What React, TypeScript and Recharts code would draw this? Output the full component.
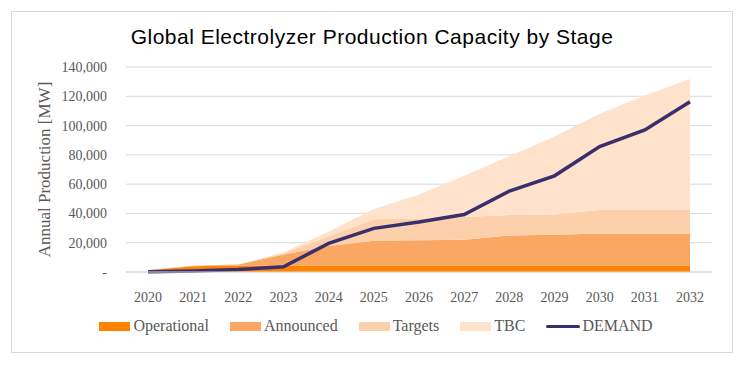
import { ComposedChart, Area, Line, CartesianGrid, XAxis, YAxis } from "recharts";
import { FC } from "react";

const years = ["2020", "2021", "2022", "2023", "2024", "2025", "2026", "2027", "2028", "2029", "2030", "2031", "2032"];
const operational = [1000, 4000, 4400, 4400, 4400, 4400, 4400, 4400, 4400, 4400, 4400, 4400, 4400];
const announced = [300, 300, 800, 7600, 13400, 16900, 17300, 17600, 20600, 21000, 21900, 21900, 21900];
const targets = [0, 0, 0, 1000, 6700, 14800, 14900, 15500, 14000, 13800, 16000, 16000, 16000];
const tbc = [200, 0, 100, 400, 3200, 6900, 16400, 28300, 40000, 53300, 65700, 78200, 89500];
const demand = [200, 700, 1700, 3600, 19500, 29800, 34200, 39300, 55300, 65700, 85700, 97000, 116300];
const yTicks = [0, 20000, 40000, 60000, 80000, 100000, 120000, 140000];

const data = years.map((year, i) => ({
  year,
  operational: operational[i],
  announced: announced[i],
  targets: targets[i],
  tbc: tbc[i],
  demand: demand[i],
}));

const COLORS = {
  operational: "#FF8200",
  announced: "#FBA764",
  targets: "#FDD0AC",
  tbc: "#FEE2CC",
  demand: "#3B2E6C",
};

const serif = "'Liberation Serif', 'Times New Roman', serif";
const textGray = "#595959";

const legendItems = [
  { name: "Operational", color: COLORS.operational, line: false },
  { name: "Announced", color: COLORS.announced, line: false },
  { name: "Targets", color: COLORS.targets, line: false },
  { name: "TBC", color: COLORS.tbc, line: false },
  { name: "DEMAND", color: COLORS.demand, line: true },
];

const fmt = (v: number) => (v === 0 ? "-" : v.toLocaleString("en-US"));

const App: FC = () => {
  return (
    <div style={{ position: "absolute", left: 0, top: 0, width: 744, height: 371, background: "#fff" }}>
      <div
        style={{
          position: "absolute",
          left: 11,
          top: 11,
          width: 720,
          height: 340,
          border: "1px solid #d9d9d9",
        }}
      />
      <div
        style={{
          position: "absolute",
          left: 0,
          top: 25,
          width: 744,
          textAlign: "center",
          fontFamily: "'Liberation Sans', Arial, sans-serif",
          fontSize: 21,
          letterSpacing: 0.5,
          color: "#000",
        }}
      >
        Global Electrolyzer Production Capacity by Stage
      </div>
      <div style={{ position: "absolute", left: 0, top: 0 }}>
        <ComposedChart width={744} height={371} data={data} margin={{ top: 67, right: 32, bottom: 69, left: 0 }}>
          <CartesianGrid vertical={false} stroke="#d9d9d9" strokeWidth={1} />
          <XAxis
            dataKey="year"
            padding={{ left: 22, right: 22 }}
            axisLine={{ stroke: "#d9d9d9" }}
            tickLine={false}
            tickMargin={14}
            interval={0}
            tick={{ fill: textGray, fontSize: 14, fontFamily: serif }}
          />
          <YAxis
            width={126}
            domain={[0, 140000]}
            ticks={yTicks}
            tickFormatter={fmt}
            axisLine={false}
            tickLine={false}
            tickMargin={13}
            tick={{ fill: textGray, fontSize: 14, fontFamily: serif }}
            label={{
              value: "Annual Production [MW]",
              angle: -90,
              position: "insideLeft",
              offset: 44,
              style: { textAnchor: "middle", fill: textGray, fontSize: 17, fontFamily: serif },
            }}
          />
          <Area type="linear" dataKey="operational" stackId="1" stroke="none" fill={COLORS.operational} fillOpacity={1} isAnimationActive={false} />
          <Area type="linear" dataKey="announced" stackId="1" stroke="none" fill={COLORS.announced} fillOpacity={1} isAnimationActive={false} />
          <Area type="linear" dataKey="targets" stackId="1" stroke="none" fill={COLORS.targets} fillOpacity={1} isAnimationActive={false} />
          <Area type="linear" dataKey="tbc" stackId="1" stroke="none" fill={COLORS.tbc} fillOpacity={1} isAnimationActive={false} />
          <Line type="linear" dataKey="demand" stroke={COLORS.demand} strokeWidth={3.5} dot={false} isAnimationActive={false} />
        </ComposedChart>
      </div>
      <div
        style={{
          position: "absolute",
          left: 4,
          top: 317,
          width: 744,
          display: "flex",
          justifyContent: "center",
          alignItems: "center",
          fontFamily: serif,
          fontSize: 16,
          color: textGray,
        }}
      >
        {legendItems.map((item) => (
          <div key={item.name} style={{ display: "flex", alignItems: "center", marginRight: item.line ? 0 : 21 }}>
            {item.line ? (
              <span style={{ display: "inline-block", width: 34, height: 3, borderRadius: 2, background: item.color, marginRight: 2 }} />
            ) : (
              <span style={{ display: "inline-block", width: 31, height: 9, background: item.color, marginRight: 3 }} />
            )}
            <span>{item.name}</span>
          </div>
        ))}
      </div>
    </div>
  );
};

export default App;
